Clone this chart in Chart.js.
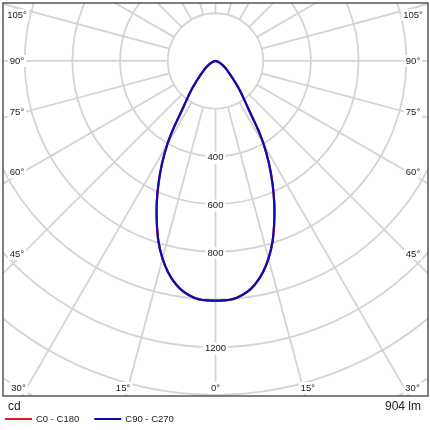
<!DOCTYPE html>
<html>
<head>
<meta charset="utf-8">
<script src="https://cdn.jsdelivr.net/npm/chart.js@4.4.1/dist/chart.umd.min.js"></script>
<style>
  html, body { margin: 0; padding: 0; background: #fff; }
  #wrap { width: 430px; height: 430px; }
</style>
</head>
<body>
<div id="wrap"><canvas id="ldc" width="430" height="430"></canvas></div>
<script>
// gamma angles (deg from nadir) and luminous intensity per C-plane pair (cd)
const gammaAngles = [0, 5, 10, 15, 20, 25, 30, 35, 40, 45, 50, 55, 60, 65, 70, 75, 80, 85, 90]
const intensityC0 = [1005, 998, 952, 858, 720, 565, 405, 232, 155, 100, 68, 50, 34, 22, 13, 7, 3, 1, 0]
const intensityC90 = [1005, 998, 952, 858, 720, 565, 405, 232, 155, 100, 68, 50, 34, 22, 13, 7, 3, 1, 0]

const ringValues = [200, 400, 600, 800, 1000, 1200, 1400, 1600, 1800, 2000]
const ringLabels = [400, 600, 800, 1200]
const angleLabels = [0, 15, 30, 45, 60, 75, 90, 105]
const spokeStep = 15

const unitText = 'cd'
const fluxText = '904 lm'
const planeNames = ['C0 - C180', 'C90 - C270']

const FONT = "'Liberation Sans', Arial, sans-serif"
const rad = (d) => (d * Math.PI) / 180

// C0 on the left half, C180 mirrored on the right half
function curve(values) {
  const left = gammaAngles
    .map((g, i) => ({ x: -values[i] * Math.sin(rad(g)), y: -values[i] * Math.cos(rad(g)) }))
    .reverse()
  const right = gammaAngles
    .slice(1)
    .map((g, i) => ({ x: values[i + 1] * Math.sin(rad(g)), y: -values[i + 1] * Math.cos(rad(g)) }))
  return left.concat(right)
}

function tag(ctx, text, x, y) {
  const w = ctx.measureText(text).width
  ctx.fillStyle = '#fff'
  ctx.fillRect(x - w / 2 - 2, y - 6, w + 4, 12)
  ctx.fillStyle = '#222'
  ctx.fillText(text, x, y)
}

const polarGrid = {
  id: 'polarGrid',
  beforeDatasetsDraw(chart) {
    const { ctx, chartArea: a, scales } = chart
    const cx = scales.x.getPixelForValue(0)
    const cy = scales.y.getPixelForValue(0)
    const k = scales.x.getPixelForValue(1000) - cx // px per 1000 cd
    const px = (v) => (v / 1000) * k

    ctx.save()
    ctx.beginPath()
    ctx.rect(a.left, a.top, a.right - a.left, a.bottom - a.top)
    ctx.clip()
    ctx.strokeStyle = '#d4d4d4'
    ctx.lineWidth = 1.8

    ringValues.forEach((v) => {
      ctx.beginPath()
      ctx.arc(cx, cy, px(v), 0, Math.PI * 2)
      ctx.stroke()
    })
    const r0 = px(ringValues[0])
    const r1 = px(ringValues[ringValues.length - 1]) * 1.5
    for (let g = 0; g < 360; g += spokeStep) {
      const sx = Math.sin(rad(g))
      const sy = Math.cos(rad(g))
      ctx.beginPath()
      ctx.moveTo(cx + sx * r0, cy + sy * r0)
      ctx.lineTo(cx + sx * r1, cy + sy * r1)
      ctx.stroke()
    }

    ctx.font = '9.5px ' + FONT
    ctx.textAlign = 'center'
    ctx.textBaseline = 'middle'

    ringLabels.forEach((v) => tag(ctx, String(v), cx, cy + px(v) + 1.5))

    angleLabels.forEach((g) => {
      const text = g + '°'
      if (g <= 30) {
        const off = Math.min(345 * Math.tan(rad(g)), 197)
        const y = a.bottom - 8
        if (g === 0) tag(ctx, text, cx, y)
        else {
          tag(ctx, text, cx - off, y)
          tag(ctx, text, cx + off, y)
        }
      } else {
        let y = g === 90 ? cy : cy + 193 / Math.tan(rad(g))
        y = Math.max(y, a.top + 12)
        tag(ctx, text, a.left + 14, y)
        tag(ctx, text, a.right - 15, y)
      }
    })
    ctx.restore()
  },
  afterDraw(chart) {
    const { ctx, chartArea: a } = chart
    ctx.save()
    ctx.strokeStyle = '#555'
    ctx.lineWidth = 1.5
    ctx.strokeRect(a.left, a.top, a.right - a.left, a.bottom - a.top)

    ctx.fillStyle = '#222'
    ctx.textBaseline = 'middle'
    ctx.font = '12px ' + FONT
    ctx.textAlign = 'left'
    ctx.fillText(unitText, 8, a.bottom + 11)
    ctx.textAlign = 'right'
    ctx.fillText(fluxText, a.right - 7, a.bottom + 11)

    // legend
    ctx.font = '9.5px ' + FONT
    ctx.textAlign = 'left'
    let x = 5
    const y = a.bottom + 23
    chart.data.datasets.forEach((ds) => {
      ctx.strokeStyle = ds.borderColor
      ctx.lineWidth = 2
      ctx.beginPath()
      ctx.moveTo(x, y)
      ctx.lineTo(x + 27, y)
      ctx.stroke()
      ctx.fillStyle = '#222'
      ctx.fillText(ds.label, x + 31, y)
      x += 31 + ctx.measureText(ds.label).width + 15
    })
    ctx.restore()
  },
}

new Chart(document.getElementById('ldc'), {
  type: 'scatter',
  data: {
    datasets: [
      {
        label: planeNames[0],
        data: curve(intensityC0),
        borderColor: '#e01a1a',
        order: 2,
      },
      {
        label: planeNames[1],
        data: curve(intensityC90),
        borderColor: '#0c0cb4',
        order: 1,
      },
    ],
  },
  options: {
    responsive: false,
    animation: false,
    showLine: true,
    layout: { padding: { left: 3, top: 3, right: 2, bottom: 34 } },
    elements: {
      point: { radius: 0, hoverRadius: 0 },
      line: { borderWidth: 2.2, tension: 0.4, fill: false },
    },
    scales: {
      x: { type: 'linear', min: -891, max: 891, display: false },
      y: { type: 'linear', min: -1405, max: 243, display: false },
    },
    plugins: {
      legend: { display: false },
      tooltip: { enabled: false },
    },
  },
  plugins: [polarGrid],
})
</script>
</body>
</html>
